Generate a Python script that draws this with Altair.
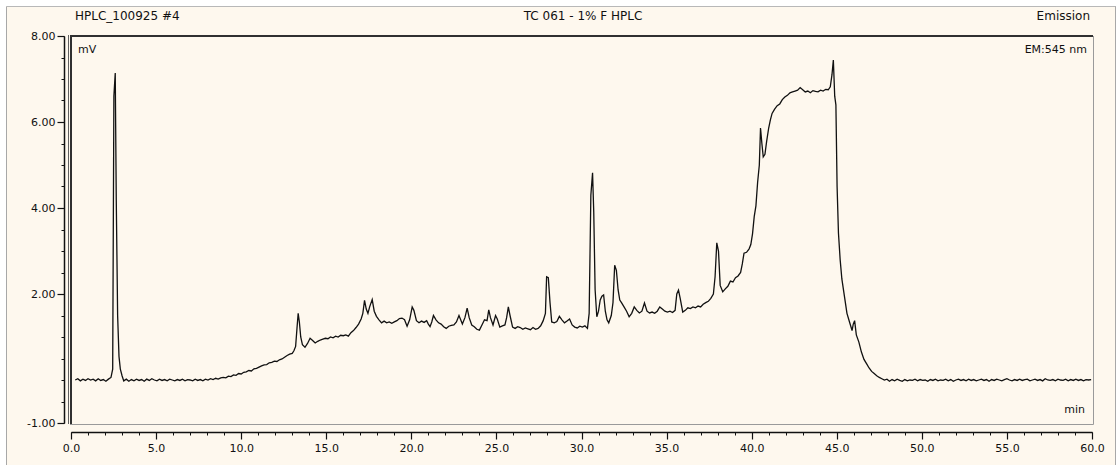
import altair as alt
import pandas as pd

# Chromatogram trace, (retention time [min], signal [mV]) grouped by region of the run
injection_region = [
    (0.25, 0.00), (0.40, 0.03), (0.55, -0.02), (0.70, 0.02), (0.85, -0.01), (1.00, 0.03),
    (1.15, 0.00), (1.30, 0.02), (1.45, -0.02), (1.60, 0.03), (1.75, -0.01), (1.90, 0.01),
    (2.05, -0.03), (2.20, 0.02), (2.35, 0.06), (2.45, 0.25), (2.52, 6.60), (2.60, 7.14),
    (2.66, 4.20), (2.74, 1.50), (2.82, 0.55), (2.90, 0.25), (3.00, 0.10), (3.10, -0.02),
    (3.25, 0.02), (3.40, -0.03), (3.55, 0.01), (3.70, -0.02), (3.85, 0.02), (4.00, -0.01),
    (4.15, 0.01), (4.30, -0.03), (4.45, 0.02), (4.60, -0.01), (4.75, 0.03), (4.90, 0.00),
    (5.05, -0.02), (5.20, 0.02), (5.35, -0.01), (5.50, 0.01), (5.65, -0.02), (5.80, 0.02),
    (5.95, 0.00), (6.10, -0.02), (6.25, 0.01), (6.40, -0.01), (6.55, 0.02), (6.70, -0.02),
    (6.85, 0.01), (7.00, 0.00), (7.15, -0.02), (7.30, 0.02), (7.45, -0.01), (7.60, 0.01),
    (7.75, -0.02), (7.90, 0.02), (8.05, 0.00), (8.20, 0.03), (8.35, 0.01), (8.50, 0.04),
    (8.65, 0.02), (8.80, 0.05),
]

gradient_region = [
    (8.95, 0.06), (9.10, 0.05), (9.25, 0.09), (9.40, 0.08), (9.55, 0.12), (9.70, 0.11),
    (9.85, 0.15), (10.00, 0.14), (10.15, 0.18), (10.30, 0.19), (10.45, 0.22), (10.60, 0.21),
    (10.75, 0.26), (10.90, 0.27), (11.05, 0.30), (11.20, 0.33), (11.35, 0.35), (11.50, 0.36),
    (11.65, 0.40), (11.80, 0.41), (11.95, 0.44), (12.10, 0.43), (12.25, 0.47), (12.40, 0.49),
    (12.55, 0.53), (12.70, 0.57), (12.85, 0.60), (13.00, 0.62), (13.10, 0.68), (13.20, 0.78),
    (13.28, 1.20), (13.35, 1.55), (13.42, 1.35), (13.50, 1.00), (13.60, 0.82), (13.75, 0.76),
    (13.90, 0.85), (14.05, 0.97), (14.20, 0.92), (14.35, 0.86), (14.50, 0.90), (14.65, 0.93),
    (14.80, 0.95), (14.95, 0.97), (15.10, 0.96), (15.25, 1.00), (15.40, 0.98), (15.55, 1.02),
    (15.70, 1.00), (15.85, 1.04), (16.00, 1.03), (16.15, 1.05), (16.30, 1.02), (16.45, 1.10),
    (16.60, 1.15), (16.75, 1.22), (16.90, 1.30), (17.05, 1.42), (17.15, 1.55), (17.25, 1.85),
    (17.35, 1.65), (17.45, 1.55), (17.55, 1.70), (17.70, 1.87), (17.82, 1.60), (17.95, 1.48),
    (18.10, 1.40), (18.25, 1.33), (18.40, 1.37), (18.55, 1.33), (18.70, 1.35), (18.85, 1.32),
    (19.00, 1.35), (19.15, 1.38), (19.30, 1.43), (19.45, 1.44), (19.60, 1.40), (19.75, 1.25),
    (19.90, 1.40), (20.05, 1.70), (20.15, 1.62), (20.30, 1.38), (20.45, 1.33), (20.60, 1.37),
    (20.75, 1.34), (20.90, 1.38), (21.00, 1.30), (21.10, 1.24), (21.20, 1.35), (21.30, 1.50),
    (21.45, 1.40), (21.60, 1.33), (21.75, 1.30), (21.90, 1.24), (22.05, 1.20), (22.20, 1.25),
    (22.35, 1.27), (22.50, 1.28), (22.65, 1.35), (22.80, 1.50), (22.90, 1.40), (23.00, 1.30),
    (23.15, 1.45), (23.28, 1.67), (23.40, 1.45), (23.55, 1.28), (23.70, 1.24), (23.85, 1.18),
    (24.00, 1.16), (24.15, 1.28), (24.30, 1.40), (24.45, 1.38), (24.55, 1.63), (24.65, 1.45),
    (24.80, 1.28), (24.95, 1.50), (25.05, 1.42), (25.20, 1.23), (25.35, 1.26), (25.50, 1.28),
    (25.60, 1.45), (25.70, 1.70), (25.80, 1.50), (25.95, 1.23), (26.10, 1.20), (26.25, 1.24),
    (26.40, 1.22), (26.55, 1.18), (26.70, 1.21), (26.85, 1.19), (27.00, 1.17), (27.15, 1.22),
    (27.30, 1.18), (27.45, 1.20), (27.60, 1.26), (27.75, 1.38), (27.88, 1.55), (27.95, 2.40),
    (28.05, 2.38), (28.15, 1.80), (28.25, 1.35), (28.40, 1.33), (28.55, 1.36), (28.70, 1.48),
    (28.85, 1.40), (29.00, 1.33), (29.15, 1.37), (29.30, 1.42), (29.45, 1.28), (29.60, 1.23),
    (29.75, 1.21), (29.90, 1.25), (30.05, 1.23), (30.20, 1.26), (30.35, 1.20),
]

main_peaks_region = [
    (30.45, 1.55), (30.55, 4.30), (30.65, 4.82), (30.72, 3.90), (30.80, 2.10), (30.90, 1.47),
    (31.00, 1.60), (31.10, 1.86), (31.20, 1.95), (31.30, 1.98), (31.40, 1.60), (31.50, 1.40),
    (31.60, 1.33), (31.75, 1.50), (31.85, 1.80), (31.95, 2.67), (32.05, 2.55), (32.15, 2.10),
    (32.25, 1.86), (32.35, 1.80), (32.50, 1.70), (32.65, 1.60), (32.80, 1.47), (32.95, 1.55),
    (33.10, 1.70), (33.25, 1.62), (33.40, 1.56), (33.55, 1.60), (33.70, 1.79), (33.85, 1.60),
    (34.00, 1.56), (34.15, 1.58), (34.30, 1.55), (34.45, 1.60), (34.60, 1.70), (34.75, 1.65),
    (34.90, 1.60), (35.05, 1.58), (35.20, 1.60), (35.35, 1.57), (35.50, 1.62), (35.60, 2.00),
    (35.70, 2.09), (35.80, 1.90), (35.95, 1.58), (36.10, 1.62), (36.25, 1.68), (36.40, 1.66),
    (36.55, 1.70), (36.70, 1.68), (36.85, 1.72), (37.00, 1.70), (37.15, 1.76), (37.30, 1.80),
    (37.45, 1.83), (37.60, 1.90), (37.75, 2.00), (37.85, 2.40), (37.95, 3.19), (38.05, 3.00),
    (38.15, 2.20), (38.30, 2.05), (38.45, 2.12), (38.60, 2.18), (38.75, 2.30), (38.90, 2.28),
    (39.05, 2.38), (39.20, 2.42), (39.35, 2.50), (39.45, 2.70), (39.55, 2.95), (39.70, 2.97),
    (39.85, 3.05), (39.95, 3.15), (40.05, 3.40), (40.15, 3.80), (40.25, 4.05), (40.35, 4.60),
    (40.45, 5.00), (40.52, 5.86), (40.60, 5.50), (40.68, 5.19), (40.78, 5.25), (40.88, 5.55),
    (41.00, 5.86), (41.10, 6.05), (41.20, 6.20), (41.35, 6.30), (41.50, 6.38), (41.65, 6.42),
    (41.80, 6.52), (41.95, 6.58), (42.10, 6.62), (42.25, 6.68), (42.40, 6.70), (42.55, 6.72),
    (42.70, 6.74), (42.85, 6.80), (43.00, 6.75), (43.15, 6.70), (43.30, 6.72), (43.45, 6.68),
    (43.60, 6.73), (43.75, 6.71), (43.90, 6.70), (44.05, 6.74), (44.20, 6.72), (44.35, 6.76),
    (44.50, 6.75), (44.62, 6.82), (44.72, 7.10), (44.80, 7.44), (44.88, 6.60), (44.95, 6.40),
    (45.02, 4.50), (45.10, 3.42), (45.20, 2.80), (45.30, 2.35), (45.45, 1.95), (45.60, 1.55),
    (45.75, 1.35), (45.90, 1.15), (45.97, 1.30), (46.05, 1.38), (46.15, 1.05), (46.30, 0.88),
    (46.45, 0.65), (46.60, 0.48), (46.75, 0.38), (46.90, 0.28), (47.05, 0.20), (47.20, 0.15),
    (47.35, 0.10), (47.50, 0.06), (47.65, 0.03), (47.80, 0.00),
]

wash_region = [
    (47.95, 0.02), (48.10, -0.03), (48.25, 0.01), (48.40, -0.02), (48.55, 0.02), (48.70, -0.01),
    (48.85, -0.03), (49.00, 0.01), (49.15, -0.02), (49.30, 0.00), (49.45, -0.01), (49.60, 0.02),
    (49.75, -0.02), (49.90, 0.01), (50.05, -0.01), (50.20, 0.00), (50.35, -0.03), (50.50, 0.01),
    (50.65, -0.01), (50.80, 0.02), (50.95, -0.02), (51.10, 0.00), (51.25, -0.01), (51.40, 0.02),
    (51.55, -0.02), (51.70, 0.01), (51.85, -0.03), (52.00, 0.00), (52.15, 0.02), (52.30, -0.01),
    (52.45, 0.01), (52.60, -0.02), (52.75, 0.02), (52.90, -0.01), (53.05, 0.01), (53.20, -0.02),
    (53.35, 0.00), (53.50, 0.02), (53.65, -0.01), (53.80, 0.01), (53.95, -0.03), (54.10, 0.01),
    (54.25, -0.01), (54.40, 0.02), (54.55, 0.00), (54.70, -0.02), (54.85, 0.01), (55.00, 0.03),
    (55.15, 0.00), (55.30, -0.02), (55.45, 0.01), (55.60, -0.01), (55.75, 0.02), (55.90, -0.01),
    (56.05, 0.01), (56.20, 0.02), (56.35, -0.02), (56.50, 0.00), (56.65, 0.02), (56.80, -0.01),
    (56.95, 0.01), (57.10, -0.02), (57.25, 0.03), (57.40, 0.00), (57.55, -0.01), (57.70, 0.01),
    (57.85, -0.02), (58.00, 0.02), (58.15, 0.00), (58.30, -0.01), (58.45, 0.02), (58.60, -0.02),
    (58.75, 0.01), (58.90, -0.01), (59.05, 0.02), (59.20, -0.01), (59.35, 0.01), (59.50, -0.02),
    (59.65, 0.01), (59.80, 0.00), (59.95, 0.01),
]

x_major = list(range(0, 61, 5))
x_minor = list(range(0, 61))
y_major = [-1, 2, 4, 6, 8]
y_minor = [-1.0, -0.5, 0.0, 0.5, 1.0, 1.5, 2.0, 2.5, 3.0, 3.5, 4.0, 4.5, 5.0, 5.5, 6.0, 6.5, 7.0, 7.5, 8.0]

header_left = "HPLC_100925 #4"
header_center = "TC 061 - 1% F HPLC"
header_right = "Emission"
unit_y = "mV"
detector = "EM:545 nm"
unit_x = "min"

FONT = "DejaVu Sans"
BG = "#FEF8EE"
INK = "#111111"
W, H = 1021, 387
PAD = {"left": 71, "top": 36, "right": 27, "bottom": 42}

trace = pd.DataFrame(injection_region + gradient_region + main_peaks_region + wash_region,
                     columns=["time", "signal"])

xscale = alt.Scale(domain=[0, 60], nice=False)
yscale = alt.Scale(domain=[-1, 8], nice=False, zero=False)

neg_fmt = "datum.value < 0 ? '-' + format(-datum.value, '.2f') : format(datum.value, '.2f')"

line = alt.Chart(trace).mark_line(color=INK, strokeWidth=1.3, interpolate="linear").encode(
    x=alt.X("time:Q", scale=xscale,
            axis=alt.Axis(values=x_major, format=".1f", orient="bottom", offset=9,
                          tickSize=7, tickColor=INK, domainColor=INK, domainWidth=1.5,
                          tickWidth=1.2, labelFont=FONT, labelFontSize=11, labelColor=INK,
                          labelPadding=3, labelFlush=False, labelOverlap=False,
                          grid=False, title=None, zindex=1)),
    y=alt.Y("signal:Q", scale=yscale,
            axis=alt.Axis(values=y_major, labelExpr=neg_fmt, orient="left", offset=7,
                          tickSize=7, tickColor=INK, domainColor=INK, domainWidth=1.5,
                          tickWidth=1.2, labelFont=FONT, labelFontSize=11, labelColor=INK,
                          labelPadding=2, labelFlush=False, labelOverlap=False,
                          grid=False, title=None, zindex=1)),
)

minor = alt.Chart(trace).mark_line(opacity=0).encode(
    x=alt.X("time:Q", scale=xscale,
            axis=alt.Axis(values=x_minor, labels=False, domain=False, orient="bottom",
                          offset=9, tickSize=3, tickColor=INK, grid=False, title=None, zindex=1)),
    y=alt.Y("signal:Q", scale=yscale,
            axis=alt.Axis(values=y_minor, labels=False, domain=False, orient="left",
                          offset=7, tickSize=3, tickColor=INK, grid=False, title=None, zindex=1)),
)

one = pd.DataFrame({"k": [0]})


def rule(x, x2, y, y2, color, width):
    return alt.Chart(one).mark_rule(color=color, strokeWidth=width).encode(
        x=alt.value(x), x2=alt.value(x2), y=alt.value(y), y2=alt.value(y2))


def rect(x, x2, y, y2, color):
    return alt.Chart(one).mark_rect(color=color).encode(
        x=alt.value(x), x2=alt.value(x2), y=alt.value(y), y2=alt.value(y2))


def label(text, x, y, align, size=11):
    return alt.Chart(pd.DataFrame({"t": [text]})).mark_text(
        align=align, baseline="middle", font=FONT, fontSize=size, color=INK
    ).encode(text="t:N", x=alt.value(x), y=alt.value(y))


L, T = PAD["left"], PAD["top"]
# white surround outside the window border, then the border itself
surround = [
    rect(-L, W + PAD["right"], -T, -T + 6, "#FFFFFF"),
    rect(-L, -L + 6, -T, H + PAD["bottom"], "#FFFFFF"),
    rect(1116 - L, W + PAD["right"], -T, H + PAD["bottom"], "#FFFFFF"),
    rule(-L + 6.5, 1116 - L, -T + 6.5, -T + 6.5, "#B8B8B8", 1),
    rule(-L + 6.5, -L + 6.5, -T + 6.5, H + PAD["bottom"], "#A8A8A8", 1),
    rule(1115.5 - L, 1115.5 - L, -T + 6.5, H + PAD["bottom"], "#A8A8A8", 1),
]

# sunken plot frame: dark top/left, light bottom/right
frame = [
    rule(-1, W + 1, 0, 0, "#303030", 2),
    rule(0, 0, 0, H + 1, "#303030", 2),
    rule(-2.5, -2.5, -1, H + 1, "#606060", 1),
    rule(W + 1.5, W + 1.5, 0, H + 1.5, "#9A9A9A", 1),
    rule(-1, W + 1.5, H + 1.5, H + 1.5, "#9A9A9A", 1),
]

texts = [
    label(header_left, 4, -20, "left", 12),
    label(header_center, 512, -20, "center", 12),
    label(header_right, 1019, -20, "right", 12),
    label(unit_y, 7, 14, "left"),
    label(detector, 1016, 14, "right"),
    label(unit_x, 1014, 374, "right"),
]

chart = alt.layer(*surround, *frame, minor, line, *texts).resolve_axis(
    x="independent", y="independent"
).properties(
    width=W, height=H, background=BG, padding=PAD,
    autosize=alt.AutoSizeParams(type="none"),
).configure_view(strokeWidth=0)

chart.save("out.html", embed_options={"renderer": "svg", "actions": False})
